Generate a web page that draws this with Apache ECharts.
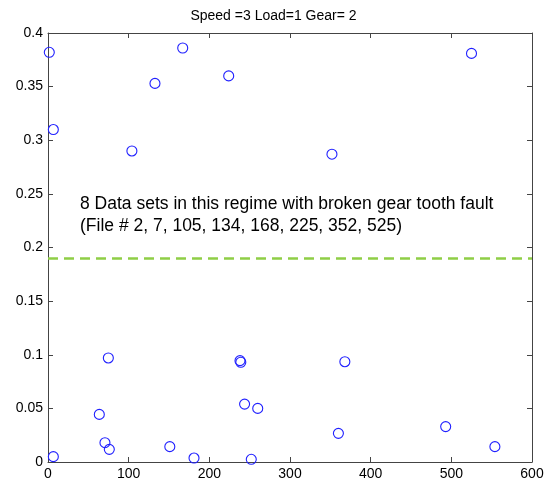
<!DOCTYPE html>
<html>
<head>
<meta charset="utf-8">
<script src="https://cdn.jsdelivr.net/npm/echarts@6/dist/echarts.min.js"></script>
<style>html,body{margin:0;padding:0;background:#fff;}#c{width:547px;height:484px;}</style>
</head>
<body>
<div id="c"></div>
<script>
var titleText = 'Speed =3 Load=1 Gear= 2';
var fileNo = [1.6, 6.6, 104, 132.6, 167, 224, 352, 525, 6.6, 63.6, 74.8, 70.6, 76, 151, 181, 238, 239, 243.7, 252, 260, 368, 360, 493, 554];
var values = [0.382, 0.310, 0.290, 0.353, 0.386, 0.360, 0.287, 0.381, 0.005, 0.0444, 0.097, 0.018, 0.0118, 0.0143, 0.0037, 0.0945, 0.093, 0.054, 0.0025, 0.050, 0.0935, 0.0267, 0.033, 0.0143];
var threshold = 0.19;
var xTicks = [0, 100, 200, 300, 400, 500, 600];
var yTicks = [0, 0.05, 0.1, 0.15, 0.2, 0.25, 0.3, 0.35, 0.4];
var noteLines = ['8 Data sets in this regime with broken gear tooth fault', '(File # 2, 7, 105, 134, 168, 225, 352, 525)'];

var pts = fileNo.map(function (x, i) { return [x, values[i]]; });
var font = 'Liberation Sans, Arial, sans-serif';
var axisCol = '#444';

function xAxisDef(pos, showLabel) {
  return {
    type: 'value', position: pos, min: xTicks[0], max: xTicks[xTicks.length - 1], interval: 100,
    axisLine: { show: true, onZero: false, lineStyle: { color: axisCol, width: 1 } },
    axisTick: { show: true, inside: true, length: 5, lineStyle: { color: axisCol } },
    axisLabel: { show: showLabel, color: '#000', fontSize: 14, fontFamily: font, margin: 5 },
    splitLine: { show: false }
  };
}
function yAxisDef(pos, showLabel) {
  return {
    type: 'value', position: pos, min: yTicks[0], max: yTicks[yTicks.length - 1], interval: 0.05,
    axisLine: { show: true, onZero: false, lineStyle: { color: axisCol, width: 1 } },
    axisTick: { show: true, inside: true, length: 5, lineStyle: { color: axisCol } },
    axisLabel: { show: showLabel, color: '#000', fontSize: 14, fontFamily: font, margin: 5,
      formatter: function (v) { return String(+v.toFixed(2)); } },
    splitLine: { show: false }
  };
}

var chart = echarts.init(document.getElementById('c'), null, { renderer: 'canvas' });
chart.setOption({
  animation: false,
  backgroundColor: '#fff',
  title: { text: titleText, left: 'center', top: 4, textStyle: { fontSize: 14, fontWeight: 'normal', color: '#000', fontFamily: font } },
  grid: { left: 48, right: 15, top: 33, bottom: 22 },
  xAxis: [xAxisDef('bottom', true), xAxisDef('top', false)],
  yAxis: [yAxisDef('left', true), yAxisDef('right', false)],
  series: [
    {
      type: 'scatter', xAxisIndex: 0, yAxisIndex: 0, data: pts, symbol: 'circle', symbolSize: 10,
      itemStyle: { color: 'rgba(0,0,0,0)', borderColor: '#2020ff', borderWidth: 1.1, opacity: 1 },
      z: 5,
      markLine: {
        silent: true, symbol: 'none', label: { show: false },
        lineStyle: { color: '#8fce46', type: [10, 6], width: 2.5 },
        data: [{ yAxis: threshold }]
      }
    }
  ],
  graphic: [
    { type: 'text', left: 80, top: 195, style: { text: noteLines[0], fontSize: 17.5, fontFamily: font, fill: '#000' } },
    { type: 'text', left: 80, top: 217, style: { text: noteLines[1], fontSize: 17.5, fontFamily: font, fill: '#000' } }
  ]
});
</script>
</body>
</html>
